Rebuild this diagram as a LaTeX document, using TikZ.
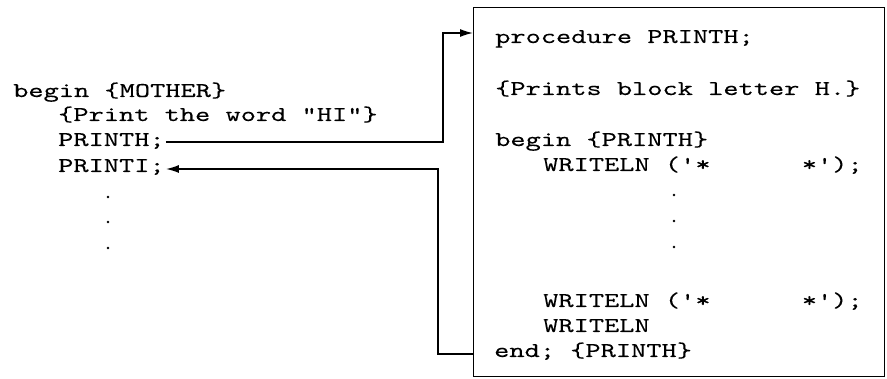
\documentclass[tikz,border=0pt]{standalone}
\usepackage{fontspec}
\setmonofont[Extension=.otf,FakeStretch=1.38,FakeBold=0.15]{lmmono10-regular}
\usetikzlibrary{arrows.meta}
\tikzset{
  code/.style={anchor=base west, inner sep=0pt, font=\ttfamily\fontsize{21}{25}\selectfont},
  dotn/.style={circle, fill=black, inner sep=0pt, minimum size=2.8pt},
  conn/.style={line width=1.5pt},
  arr/.style={conn, -{Latex[length=13pt,width=8pt]}},
  box/.style={draw, line width=1.4pt}
}
\begin{document}
\begin{tikzpicture}[x=1pt,y=-1pt]
\useasboundingbox (0,0) rectangle (887,379);
% left column
\node[code] (mb) at (13,97) {begin \{MOTHER\}};
\node[code] (mc) at (58,121) {\{Print the word "HI"\}};
\node[code] (ph) at (58,146) {PRINTH;};
\node[code] (pi) at (58,172) {PRINTI;};
\node[dotn] (d1) at (108,197) {};
\node[dotn] (d2) at (108,222) {};
\node[dotn] (d3) at (108,248) {};
% procedure box
\node[box, minimum width=411pt, minimum height=369pt, anchor=north west, inner sep=0pt] (bx) at (473,7) {};
\node[code] (r1) at (495,43) {procedure PRINTH;};
\node[code] (r2) at (495,95) {\{Prints block letter H.\}};
\node[code] (r3) at (495,146) {begin \{PRINTH\}};
\node[code] (r4) at (543,171) {WRITELN ('*\ \ \ \ \ \ *');};
\node[dotn] (e1) at (674,195) {};
\node[dotn] (e2) at (674,221) {};
\node[dotn] (e3) at (674,247) {};
\node[code] (r5) at (543,307) {WRITELN ('*\ \ \ \ \ \ *');};
\node[code] (r6) at (543,332) {WRITELN};
\node[code] (r7) at (494,357) {end; \{PRINTH\}};
% connectors
\coordinate (in1) at (bx.north west |- 0,33);
\coordinate (ja) at (443,33);
\coordinate (phe) at ([xshift=1pt,yshift=4pt]ph.base east);
\draw[arr] (phe) -| (ja) -- (in1);
\coordinate (out1) at (bx.north west |- 0,354);
\coordinate (jb) at (438,354);
\coordinate (pie) at ([xshift=1pt,yshift=3pt]pi.base east);
\draw[arr] (out1) -- (jb) |- (pie);
\end{tikzpicture}
\end{document}
